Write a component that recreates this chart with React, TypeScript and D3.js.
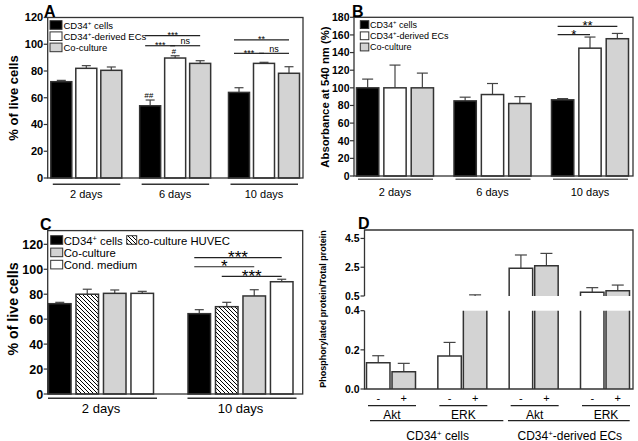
import React from "react";
import * as d3 from "d3";

const FONT = "'Liberation Sans', Arial, Helvetica, sans-serif";
const EDGE = "#333";
const GRAY = "#d3d3d3";

// ---------- Panel A ----------
const groupsA = ["2 days", "6 days", "10 days"];
const seriesA = ["CD34+ cells", "CD34+-derived ECs", "Co-culture"];
const meanA = [[72, 82, 80.5], [54, 89.7, 85.7], [64, 85.7, 78.3]];
const errA = [[1, 2, 2.5], [4.3, 1.7, 2], [3.5, 0.8, 4.9]];
const ticksA = [0, 20, 40, 60, 80, 100, 120];
const sigA = [
  { g: 1, s1: 0, s2: 2, y: 106.4, label: "***" },
  { g: 1, s1: 0, s2: 1, y: 98.9, label: "***" },
  { g: 1, s1: 1, s2: 2, y: 98.9, label: "ns" },
  { g: 2, s1: 0, s2: 2, y: 103.2, label: "**" },
  { g: 2, s1: 0, s2: 1, y: 93.2, label: "***" },
  { g: 2, s1: 1, s2: 2, y: 93.2, label: "ns" },
];
const hashA = [{ g: 1, s: 0, label: "##" }, { g: 1, s: 1, label: "#" }];

// ---------- Panel B ----------
const groupsB = ["2 days", "6 days", "10 days"];
const seriesB = ["CD34+ cells", "CD34+-derived ECs", "Co-culture"];
const meanB = [[100, 100, 100], [85.2, 92.4, 82.2], [86.4, 145, 155.7]];
const errB = [[9.9, 25.8, 16.7], [4.2, 12.5, 7.8], [1.4, 12.6, 6]];
const ticksB = [0, 20, 40, 60, 80, 100, 120, 140, 160, 180];
const sigB = [
  { g: 2, s1: 0, s2: 2, y: 169.8, label: "**" },
  { g: 2, s1: 0, s2: 1, y: 160.3, label: "*" },
];

// ---------- Panel C ----------
const groupsC = ["2 days", "10 days"];
const seriesC = ["CD34+ cells", "co-culture HUVEC", "Co-culture", "Cond. medium"];
const meanC = [[72.4, 80, 80.7, 80.7], [64.4, 70, 78.6, 90]];
const errC = [[1.1, 4, 2.7, 1.6], [3.2, 3.5, 5, 2]];
const ticksC = [0, 20, 40, 60, 80, 100, 120];
const sigC = [
  { g: 1, s1: 0, s2: 3, y: 109.3, label: "***" },
  { g: 1, s1: 0, s2: 2, y: 102, label: "*" },
  { g: 1, s1: 1, s2: 3, y: 94.3, label: "***" },
];

// ---------- Panel D ----------
const proteinsD = ["Akt", "ERK", "Akt", "ERK"];
const cellTypesD = ["CD34+ cells", "CD34+-derived ECs"];
const treatmentsD = ["-", "+"];
const meanD = [[0.134, 0.088], [0.168, 0.5], [2.42, 2.6], [0.76, 0.87]];
const errD = [[0.036, 0.043], [0.07, 0.08], [0.93, 0.86], [0.32, 0.39]];
const ticksDLow = [0, 0.2, 0.4];
const ticksDHigh = [0.5, 2.5, 4.5];

function Label({ text }: { text: string }) {
  if (text.startsWith("CD34+")) {
    const rest = text.slice(5);
    return (
      <>
        CD34
        <tspan dy={-4} fontSize="65%">+</tspan>
        <tspan dy={4}>{rest}</tspan>
      </>
    );
  }
  return <>{text}</>;
}

type PanelCfg = {
  groups: string[];
  series: string[];
  mean: number[][];
  err: number[][];
  fills: string[];
  ticks: number[];
  yDomain: [number, number];
  frame: { x0: number; x1: number; y0: number; y1: number };
  centers: [number, number];
  inner: [number, number, number];
  tickFont: number;
  catFont: number;
  catBaseline: number;
  underY: number;
  under: [number, number];
  underColor: string;
  sig: { g: number; s1: number; s2: number; y: number; label: string }[];
  starFont: number;
  starDy: number;
  capW: number;
};

function BarPanel(c: PanelCfg) {
  const { x0, x1, y0, y1 } = c.frame;
  const y = d3.scaleLinear().domain(c.yDomain).range([y1, y0]);
  const gx = d3.scalePoint<number>().domain(c.groups.map((_, i) => i)).range(c.centers);
  const sx = d3
    .scaleBand<number>()
    .domain(c.series.map((_, i) => i))
    .range([c.inner[0], c.inner[1]])
    .paddingInner(c.inner[2]);
  const bw = sx.bandwidth();
  const barX = (g: number, s: number) => (gx(g) as number) + (sx(s) as number);
  return (
    <g>
      {c.groups.map((gname, g) =>
        c.series.map((_, s) => {
          const x = barX(g, s);
          const v = c.mean[g][s];
          const e = c.err[g][s];
          const cx = x + bw / 2;
          return (
            <g key={`${g}-${s}`}>
              <line x1={cx} x2={cx} y1={y(v)} y2={y(v + e)} stroke="#444" strokeWidth={1.2} />
              <line x1={cx - c.capW / 2} x2={cx + c.capW / 2} y1={y(v + e)} y2={y(v + e)} stroke="#444" strokeWidth={1.2} />
              <rect x={x} y={y(v)} width={bw} height={y(0) - y(v)} fill={c.fills[s]} stroke={EDGE} strokeWidth={1.5} />
            </g>
          );
        })
      )}
      <rect x={x0} y={y0} width={x1 - x0} height={y1 - y0} fill="none" stroke={EDGE} strokeWidth={1.3} />
      {c.ticks.map((t) => (
        <g key={t}>
          <line x1={x0 - 4} x2={x0} y1={y(t)} y2={y(t)} stroke={EDGE} strokeWidth={1.2} />
          <text x={x0 - 4.5} y={y(t)} dy="0.36em" textAnchor="end" fontSize={c.tickFont} fontWeight="bold" fontFamily={FONT}>
            {t}
          </text>
        </g>
      ))}
      {c.groups.map((gname, g) => {
        const gc = gx(g) as number;
        return (
          <g key={gname}>
            <line x1={gc + c.under[0]} x2={gc + c.under[1]} y1={c.underY} y2={c.underY} stroke={c.underColor} strokeWidth={1.5} />
            <text x={gc} y={c.catBaseline} textAnchor="middle" fontSize={c.catFont} fontFamily={FONT}>
              {gname}
            </text>
          </g>
        );
      })}
      {c.sig.map((s, i) => {
        const xa = barX(s.g, s.s1) + bw / 2 - 5;
        const xb = barX(s.g, s.s2) + bw / 2;
        const ly = y(s.y);
        const isNs = s.label === "ns";
        return (
          <g key={i}>
            <line x1={xa} x2={xb} y1={ly} y2={ly} stroke="#222" strokeWidth={1.2} />
            <text
              x={(xa + xb) / 2}
              y={isNs ? ly - 1.5 : ly + c.starDy}
              textAnchor="middle"
              fontSize={c.starFont}
              fontFamily={FONT}
            >
              {s.label}
            </text>
          </g>
        );
      })}
      {(c as any).hash
        ? (c as any).hash.map((h: any, i: number) => {
            const x = barX(h.g, h.s) + bw / 2;
            const top = y(c.mean[h.g][h.s] + c.err[h.g][h.s]);
            return (
              <text key={i} x={x - 1.5} y={top - 2} textAnchor="middle" fontSize={8} fontFamily={FONT} fontStyle="italic">
                {h.label}
              </text>
            );
          })
        : null}
    </g>
  );
}

function PanelD() {
  const x0 = 364.5, x1 = 633, yTop = 230, yBot = 389;
  const yLow = d3.scaleLinear().domain([0, 0.4]).range([389, 310.7]);
  const yHigh = d3.scaleLinear().domain([0.5, 5.1]).range([296, 229.8]);
  const gx = d3.scalePoint<number>().domain(proteinsD.map((_, i) => i)).range([391, 605]);
  const sx = d3.scaleBand<number>().domain(treatmentsD.map((_, i) => i)).range([-24.5, 24.5]).paddingInner(0.08);
  const bw = sx.bandwidth();
  const fills = ["#fff", GRAY];
  const lowTop = yLow(0.4);
  const highBot = yHigh(0.5);
  const bars: JSX.Element[] = [];
  proteinsD.forEach((_, g) => {
    treatmentsD.forEach((__, s) => {
      const x = (gx(g) as number) + (sx(s) as number);
      const v = meanD[g][s];
      const e = errD[g][s];
      const cx = x + bw / 2;
      const top = v + e;
      const eFromY = v <= 0.4 ? yLow(v) : yHigh(Math.max(v, 0.5));
      const eToY = top <= 0.4 ? yLow(top) : yHigh(Math.max(top, 0.5));
      const lowV = Math.min(v, 0.4);
      const lowPath =
        v <= 0.4
          ? `M${x},${yBot}V${yLow(v)}H${x + bw}V${yBot}`
          : `M${x},${yBot}V${lowTop}M${x + bw},${lowTop}V${yBot}`;
      bars.push(
        <g key={`${g}-${s}`}>
          <line x1={cx} x2={cx} y1={eFromY} y2={eToY} stroke="#444" strokeWidth={1.2} />
          <line x1={cx - 6} x2={cx + 6} y1={eToY} y2={eToY} stroke="#444" strokeWidth={1.2} />
          <rect x={x} y={yLow(lowV)} width={bw} height={yBot - yLow(lowV)} fill={fills[s]} />
          <path d={lowPath} fill="none" stroke={EDGE} strokeWidth={1.5} />
          {v > 0.5 ? (
            <>
              <rect x={x} y={yHigh(v)} width={bw} height={highBot - yHigh(v)} fill={fills[s]} />
              <path d={`M${x},${highBot}V${yHigh(v)}H${x + bw}V${highBot}`} fill="none" stroke={EDGE} strokeWidth={1.5} />
            </>
          ) : null}
        </g>
      );
    });
  });
  const c = proteinsD.map((_, i) => gx(i) as number);
  const cellLines = [
    [c[0] - 21, c[1] + 41],
    [c[2] - 25.7, c[3] + 24.7],
  ];
  return (
    <g fontFamily={FONT}>
      {bars}
      <path
        d={`M${x0},${highBot}V${yTop}H${x1}V${yBot}H${x0}V${lowTop}`}
        fill="none"
        stroke={EDGE}
        strokeWidth={1.3}
      />
      {ticksDLow.map((t) => (
        <g key={`l${t}`}>
          <line x1={x0 - 4} x2={x0} y1={yLow(t)} y2={yLow(t)} stroke={EDGE} strokeWidth={1.2} />
          <text x={x0 - 5} y={yLow(t)} dy="0.36em" textAnchor="end" fontSize={10.5} fontWeight="bold">
            {t.toFixed(1)}
          </text>
        </g>
      ))}
      {ticksDHigh.map((t) => (
        <g key={`h${t}`}>
          <line x1={x0 - 4} x2={x0} y1={yHigh(t)} y2={yHigh(t)} stroke={EDGE} strokeWidth={1.2} />
          <text x={x0 - 5} y={yHigh(t)} dy="0.36em" textAnchor="end" fontSize={10.5} fontWeight="bold">
            {t.toFixed(1)}
          </text>
        </g>
      ))}
      {proteinsD.map((p, g) => (
        <g key={`p${g}`}>
          {treatmentsD.map((t, s) => (
            <text key={t} x={c[g] + (sx(s) as number) + bw / 2} y={401.5} textAnchor="middle" fontSize={11}>
              {t}
            </text>
          ))}
          <line x1={c[g] - 23} x2={c[g] + 25} y1={405.7} y2={405.7} stroke="#222" strokeWidth={1.3} />
          <text x={c[g] + 1} y={419.3} textAnchor="middle" fontSize={12}>
            {p}
          </text>
        </g>
      ))}
      {cellTypesD.map((ct, i) => (
        <g key={ct}>
          <line x1={cellLines[i][0]} x2={cellLines[i][1]} y1={420.7} y2={420.7} stroke="#222" strokeWidth={1.3} />
          <text x={(cellLines[i][0] + cellLines[i][1]) / 2 + 1} y={439.5} textAnchor="middle" fontSize={12}>
            <Label text={ct} />
          </text>
        </g>
      ))}
      <text
        transform="translate(323,309) rotate(-90)"
        textAnchor="middle"
        dominantBaseline="central"
        fontSize={9}
        fontWeight="bold"
      >
        Phosphorylated protein/Total protein
      </text>
      <text x={358} y={229} fontSize={16} fontWeight="bold">D</text>
    </g>
  );
}

export default function App() {
  const fillsAB = ["#000", "#fff", GRAY];
  const fillsC = ["#000", "url(#hatch)", GRAY, "#fff"];
  return (
    <svg
      width={638}
      height={441}
      viewBox="0 0 638 441"
      style={{ position: "absolute", left: 0, top: 0, background: "#fff" }}
      fontFamily={FONT}
    >
      <defs>
        <pattern id="hatch" patternUnits="userSpaceOnUse" width={4} height={4}>
          <rect width={4} height={4} fill="#fff" />
          <path d="M-1,-1L5,5M-1,3L1,5M3,-1L5,1" stroke="#000" strokeWidth={1} />
        </pattern>
      </defs>
      <rect width={638} height={441} fill="#fff" />

      {/* Panel A */}
      <BarPanel
        {...({
          groups: groupsA,
          series: seriesA,
          mean: meanA,
          err: errA,
          fills: fillsAB,
          ticks: ticksA,
          yDomain: [0, 120],
          frame: { x0: 47.7, x1: 303, y0: 17.5, y1: 178 },
          centers: [86.3, 264],
          inner: [-35.5, 35.5, 0.16],
          tickFont: 11,
          catFont: 11,
          catBaseline: 198,
          underY: 184.3,
          under: [-33.5, 34],
          underColor: "#333",
          sig: sigA,
          starFont: 9,
          starDy: 2.3,
          capW: 9,
          hash: hashA,
        } as any)}
      />
      {seriesA.map((s, i) => (
        <g key={s}>
          <rect x={50} y={20.7 + i * 11.2} width={12} height={8.6} fill={fillsAB[i]} stroke={EDGE} strokeWidth={1} />
          <text x={63.5} y={28.6 + i * 11.2} fontSize={9.5}>
            <Label text={s} />
          </text>
        </g>
      ))}
      <text transform="translate(13,98) rotate(-90)" textAnchor="middle" dominantBaseline="central" fontSize={13} fontWeight="bold">
        % of live cells
      </text>
      <text x={44} y={17} fontSize={16} fontWeight="bold">A</text>

      {/* Panel B */}
      <BarPanel
        {...({
          groups: groupsB,
          series: seriesB,
          mean: meanB,
          err: errB,
          fills: fillsAB,
          ticks: ticksB,
          yDomain: [0, 180],
          frame: { x0: 354, x1: 633, y0: 17.3, y1: 176 },
          centers: [395, 590],
          inner: [-38.5, 38.5, 0.185],
          tickFont: 10.5,
          catFont: 11,
          catBaseline: 195.7,
          underY: 179.3,
          under: [-37, 38],
          underColor: "#666",
          sig: sigB,
          starFont: 13,
          starDy: 4,
          capW: 11,
        } as any)}
      />
      {seriesB.map((s, i) => (
        <g key={s}>
          <rect x={360.3} y={20.7 + i * 11.2} width={8.5} height={7.8} fill={fillsAB[i]} stroke={EDGE} strokeWidth={1} />
          <text x={370} y={28 + i * 11.2} fontSize={9}>
            <Label text={s} />
          </text>
        </g>
      ))}
      <text transform="translate(325,97) rotate(-90)" textAnchor="middle" dominantBaseline="central" fontSize={11.3} fontWeight="bold">
        Absorbance at 540 nm (%)
      </text>
      <text x={352} y={17} fontSize={16} fontWeight="bold">B</text>

      {/* Panel C */}
      <BarPanel
        {...({
          groups: groupsC,
          series: seriesC,
          mean: meanC,
          err: errC,
          fills: fillsC,
          ticks: ticksC,
          yDomain: [0, 131],
          frame: { x0: 47.7, x1: 302.7, y0: 230.6, y1: 394 },
          centers: [101, 240.5],
          inner: [-52.5, 52.5, 0.18],
          tickFont: 12.5,
          catFont: 13,
          catBaseline: 413,
          underY: 398.3,
          under: [-53, 56],
          underColor: "#333",
          sig: sigC,
          starFont: 17,
          starDy: 5.5,
          capW: 9,
        } as any)}
      />
      {[
        { i: 0, x: 50.7, y: 235.7, w: 12 },
        { i: 1, x: 126.7, y: 235.7, w: 10 },
        { i: 2, x: 50.7, y: 248.1, w: 12 },
        { i: 3, x: 50.7, y: 260.3, w: 12 },
      ].map((p) => (
        <g key={p.i}>
          <rect x={p.x} y={p.y} width={p.w} height={8.6} fill={fillsC[p.i]} stroke={EDGE} strokeWidth={1} />
          <text x={p.x + p.w + 1} y={p.y + 8.8} fontSize={11.3}>
            <Label text={seriesC[p.i]} />
          </text>
        </g>
      ))}
      <text transform="translate(13,309) rotate(-90)" textAnchor="middle" dominantBaseline="central" fontSize={14.2} fontWeight="bold">
        % of live cells
      </text>
      <text x={40} y={230} fontSize={16} fontWeight="bold">C</text>

      {/* Panel D */}
      <PanelD />
    </svg>
  );
}
